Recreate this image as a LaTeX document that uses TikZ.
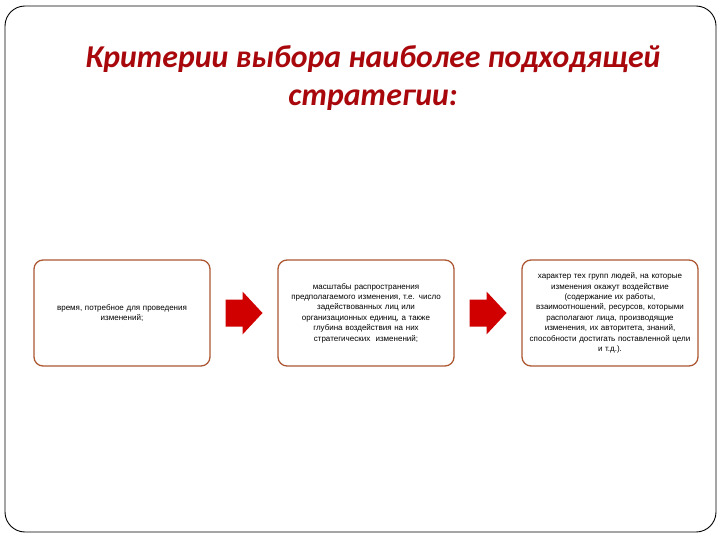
\documentclass[tikz,border=0pt]{standalone}
\usepackage{fontspec}
\newfontfamily\titlefont{Carlito}
\newfontfamily\boxfont{Liberation Sans}
\definecolor{titlered}{RGB}{168,8,12}
\definecolor{boxline}{RGB}{172,88,52}
\definecolor{arrowred}{RGB}{208,0,0}
\tikzset{
  crit/.style={draw=boxline, line width=1.3pt, rounded corners=9pt, fill=white,
    minimum width=176pt, minimum height=106pt, inner sep=2pt,
    text width=172pt, align=center, font=\boxfont\fontsize{8}{10.4}\selectfont},
  heading/.style={text=titlered, align=center,
    font=\titlefont\bfseries\itshape\fontsize{31.8}{38}\selectfont}
}
% block arrow around a named coordinate
\newcommand\blockarrow[1]{%
  \fill[arrowred] (#1) ++(-18.5,-13.5) -- ++(17,0) -- ++(0,-8) -- ++(20,21.5)
    -- ++(-20,21.5) -- ++(0,-8) -- ++(-17,0) -- cycle;}
\begin{document}
\begin{tikzpicture}[x=1pt,y=-1pt]
  \useasboundingbox (0,0) rectangle (720,540);
  \draw[line width=0.9pt, rounded corners=20pt] (5,6) rectangle (716,532);
  \node[heading] (title) at (373,78) {Критерии выбора наиболее подходящей\\стратегии:};
  \node[crit] (time) at (122,313) {время, потребное для проведения\\изменений;};
  \node[crit] (scale) at (366,313) {масштабы распространения\\предполагаемого изменения, т.е. число\\задействованных лиц или\\организационных единиц, а также\\глубина воздействия на них\\стратегических~ изменений;};
  \node[crit] (groups) at (610,313) {характер тех групп людей, на которые\\изменения окажут воздействие\\(содержание их работы,\\взаимоотношений, ресурсов, которыми\\располагают лица, производящие\\изменения, их авторитета, знаний,\\способности достигать поставленной цели\\и т.д.).};
  \path (time.east) -- (scale.west) coordinate[midway] (arrA);
  \path (scale.east) -- (groups.west) coordinate[midway] (arrB);
  \blockarrow{arrA}
  \blockarrow{arrB}
\end{tikzpicture}
\end{document}
